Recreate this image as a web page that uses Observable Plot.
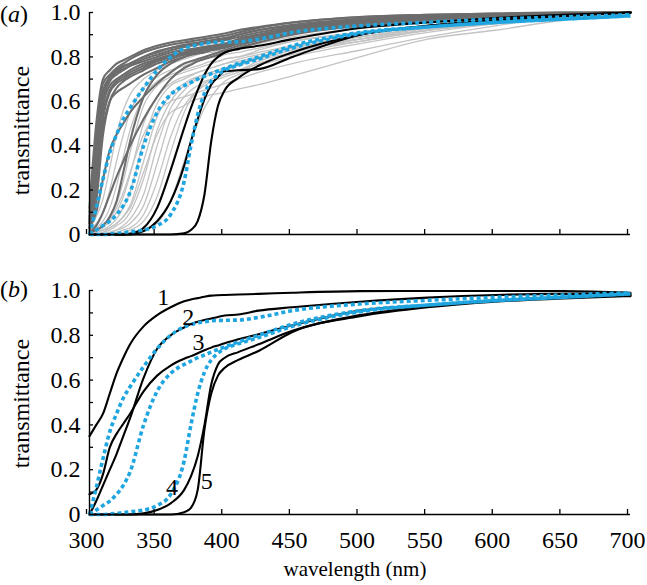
<!DOCTYPE html>
<html>
<head>
<meta charset="utf-8">
<script src="https://cdn.jsdelivr.net/npm/d3@7"></script>
<script src="https://cdn.jsdelivr.net/npm/@observablehq/plot@0.6"></script>
<style>
  body { margin: 0; background: #fff; }
  #chart svg { display: block; font-family: "Liberation Serif", "Times New Roman", serif; font-size: 24px; overflow: visible; }
  #chart svg text { font-family: "Liberation Serif", "Times New Roman", serif; }
</style>
</head>
<body>
<div id="chart"></div>
<script>
// ---------------- data ----------------
const wavelengths = [300, 305, 310, 315, 320, 325, 330, 340, 350, 360, 370, 375, 380, 385, 390, 395, 400, 410, 425, 450, 500, 550, 600, 650, 700];

// panel (a): dark grey spectra
const darkGrey = [
  [0.05, 0.35, 0.62, 0.70, 0.73, 0.745, 0.76, 0.78, 0.80, 0.82, 0.83, 0.835, 0.84, 0.845, 0.85, 0.855, 0.86, 0.88, 0.90, 0.93, 0.96, 0.975, 0.985, 0.995, 1.0],
  [0.08, 0.40, 0.65, 0.71, 0.74, 0.76, 0.77, 0.80, 0.82, 0.84, 0.85, 0.855, 0.86, 0.865, 0.87, 0.875, 0.88, 0.90, 0.92, 0.945, 0.97, 0.985, 0.99, 0.995, 1.0],
  [0.04, 0.28, 0.58, 0.67, 0.70, 0.72, 0.74, 0.77, 0.79, 0.81, 0.82, 0.83, 0.835, 0.84, 0.845, 0.85, 0.855, 0.87, 0.89, 0.92, 0.955, 0.97, 0.985, 0.995, 1.0],
  [0.10, 0.45, 0.68, 0.72, 0.75, 0.77, 0.79, 0.82, 0.84, 0.855, 0.865, 0.87, 0.875, 0.88, 0.885, 0.89, 0.895, 0.91, 0.93, 0.955, 0.98, 0.99, 0.995, 1.0, 1.0],
  [0.03, 0.22, 0.52, 0.64, 0.68, 0.70, 0.72, 0.75, 0.78, 0.80, 0.815, 0.82, 0.83, 0.835, 0.84, 0.845, 0.85, 0.87, 0.89, 0.92, 0.95, 0.97, 0.985, 0.995, 1.0],
  [0.06, 0.32, 0.60, 0.69, 0.72, 0.74, 0.76, 0.79, 0.81, 0.83, 0.845, 0.85, 0.855, 0.86, 0.865, 0.87, 0.875, 0.89, 0.91, 0.935, 0.965, 0.98, 0.99, 0.995, 1.0],
  [0.02, 0.15, 0.45, 0.60, 0.66, 0.69, 0.71, 0.74, 0.77, 0.79, 0.81, 0.815, 0.82, 0.83, 0.835, 0.84, 0.845, 0.86, 0.88, 0.91, 0.945, 0.965, 0.98, 0.99, 1.0],
  [0.07, 0.38, 0.63, 0.70, 0.735, 0.755, 0.77, 0.80, 0.825, 0.84, 0.855, 0.86, 0.865, 0.87, 0.875, 0.88, 0.885, 0.90, 0.92, 0.94, 0.97, 0.985, 0.99, 0.995, 1.0],
  [0.03, 0.20, 0.48, 0.60, 0.64, 0.66, 0.68, 0.72, 0.75, 0.78, 0.80, 0.81, 0.815, 0.82, 0.83, 0.835, 0.84, 0.86, 0.88, 0.91, 0.945, 0.965, 0.98, 0.99, 1.0],
  [0.05, 0.30, 0.55, 0.65, 0.69, 0.71, 0.73, 0.76, 0.785, 0.805, 0.82, 0.825, 0.83, 0.84, 0.845, 0.85, 0.855, 0.88, 0.90, 0.925, 0.955, 0.975, 0.985, 0.995, 1.0],
  [0.03, 0.10, 0.25, 0.38, 0.45, 0.50, 0.55, 0.62, 0.68, 0.73, 0.77, 0.78, 0.79, 0.80, 0.81, 0.82, 0.83, 0.85, 0.875, 0.905, 0.94, 0.965, 0.98, 0.99, 1.0],
  [0.01, 0.04, 0.10, 0.18, 0.26, 0.33, 0.40, 0.52, 0.62, 0.70, 0.75, 0.765, 0.78, 0.79, 0.80, 0.81, 0.82, 0.84, 0.865, 0.90, 0.94, 0.965, 0.98, 0.99, 1.0],
  [0.01, 0.02, 0.04, 0.08, 0.15, 0.28, 0.42, 0.62, 0.72, 0.77, 0.80, 0.81, 0.82, 0.83, 0.84, 0.845, 0.85, 0.87, 0.89, 0.92, 0.955, 0.975, 0.985, 0.995, 1.0],
  [0.12, 0.50, 0.70, 0.74, 0.77, 0.785, 0.80, 0.83, 0.85, 0.865, 0.875, 0.88, 0.885, 0.89, 0.895, 0.90, 0.905, 0.92, 0.935, 0.955, 0.98, 0.99, 0.995, 1.0, 1.0]
];

// panel (a): light grey spectra
const lightGrey = [
  [0.02, 0.05, 0.10, 0.20, 0.33, 0.45, 0.55, 0.66, 0.71, 0.74, 0.76, 0.77, 0.78, 0.79, 0.80, 0.80, 0.81, 0.82, 0.84, 0.87, 0.91, 0.94, 0.97, 0.99, 1.0],
  [0.01, 0.03, 0.06, 0.12, 0.22, 0.35, 0.47, 0.62, 0.69, 0.72, 0.74, 0.75, 0.76, 0.77, 0.78, 0.78, 0.79, 0.80, 0.82, 0.85, 0.89, 0.93, 0.96, 0.98, 1.0],
  [0.01, 0.02, 0.04, 0.08, 0.14, 0.24, 0.37, 0.58, 0.67, 0.71, 0.73, 0.74, 0.75, 0.76, 0.77, 0.78, 0.79, 0.80, 0.83, 0.87, 0.91, 0.94, 0.97, 0.99, 1.0],
  [0.0, 0.01, 0.03, 0.06, 0.10, 0.17, 0.27, 0.50, 0.62, 0.68, 0.71, 0.72, 0.73, 0.74, 0.75, 0.76, 0.77, 0.78, 0.80, 0.84, 0.88, 0.92, 0.95, 0.98, 1.0],
  [0.0, 0.01, 0.02, 0.04, 0.07, 0.12, 0.19, 0.42, 0.59, 0.67, 0.70, 0.715, 0.73, 0.74, 0.75, 0.76, 0.77, 0.79, 0.81, 0.85, 0.90, 0.94, 0.97, 0.99, 1.0],
  [0.0, 0.0, 0.01, 0.03, 0.05, 0.08, 0.13, 0.33, 0.53, 0.63, 0.68, 0.70, 0.71, 0.72, 0.73, 0.74, 0.75, 0.77, 0.79, 0.83, 0.87, 0.92, 0.95, 0.98, 1.0],
  [0.0, 0.0, 0.01, 0.02, 0.04, 0.06, 0.10, 0.25, 0.47, 0.60, 0.67, 0.69, 0.71, 0.72, 0.73, 0.74, 0.75, 0.77, 0.80, 0.84, 0.89, 0.93, 0.96, 0.99, 1.0],
  [0.0, 0.0, 0.0, 0.01, 0.02, 0.04, 0.07, 0.18, 0.40, 0.57, 0.65, 0.68, 0.70, 0.71, 0.72, 0.73, 0.74, 0.76, 0.79, 0.83, 0.89, 0.93, 0.96, 0.99, 1.0],
  [0.0, 0.0, 0.0, 0.01, 0.02, 0.03, 0.05, 0.13, 0.32, 0.52, 0.62, 0.65, 0.67, 0.69, 0.70, 0.71, 0.72, 0.74, 0.77, 0.82, 0.88, 0.92, 0.96, 0.98, 1.0],
  [0.0, 0.0, 0.0, 0.0, 0.01, 0.02, 0.03, 0.09, 0.24, 0.44, 0.58, 0.62, 0.65, 0.67, 0.69, 0.70, 0.71, 0.73, 0.77, 0.81, 0.87, 0.92, 0.96, 0.98, 1.0],
  [0.0, 0.01, 0.02, 0.03, 0.05, 0.08, 0.12, 0.28, 0.45, 0.55, 0.58, 0.60, 0.61, 0.62, 0.63, 0.635, 0.64, 0.655, 0.675, 0.715, 0.80, 0.88, 0.92, 0.965, 0.995],
  [0.01, 0.02, 0.04, 0.07, 0.12, 0.19, 0.28, 0.45, 0.55, 0.60, 0.62, 0.63, 0.64, 0.65, 0.66, 0.67, 0.68, 0.70, 0.73, 0.77, 0.83, 0.89, 0.94, 0.98, 1.0],
  [0.03, 0.08, 0.16, 0.30, 0.45, 0.56, 0.63, 0.70, 0.74, 0.77, 0.79, 0.80, 0.81, 0.82, 0.82, 0.83, 0.83, 0.84, 0.86, 0.89, 0.93, 0.96, 0.98, 0.99, 1.0],
  [0.0, 0.0, 0.0, 0.0, 0.0, 0.01, 0.02, 0.06, 0.17, 0.37, 0.55, 0.61, 0.65, 0.68, 0.70, 0.71, 0.72, 0.74, 0.78, 0.82, 0.88, 0.93, 0.96, 0.98, 1.0],
  [0.0, 0.0, 0.0, 0.0, 0.0, 0.0, 0.01, 0.02, 0.05, 0.15, 0.33, 0.42, 0.50, 0.57, 0.62, 0.66, 0.69, 0.72, 0.76, 0.80, 0.86, 0.91, 0.95, 0.98, 1.0]
];

// panel (a): black spectra
const blackA = [
  [0.0, 0.0, 0.0, 0.0, 0.0, 0.0, 0.003, 0.03, 0.12, 0.29, 0.48, 0.57, 0.65, 0.72, 0.77, 0.80, 0.82, 0.835, 0.85, 0.88, 0.93, 0.955, 0.975, 0.99, 1.0],
  [0.0, 0.0, 0.0, 0.0, 0.0, 0.0, 0.0, 0.015, 0.06, 0.15, 0.31, 0.42, 0.52, 0.61, 0.675, 0.71, 0.735, 0.74, 0.745, 0.80, 0.90, 0.94, 0.965, 0.985, 1.0],
  [0.0, 0.0, 0.0, 0.0, 0.0, 0.0, 0.0, 0.0, 0.0, 0.0, 0.005, 0.02, 0.06, 0.18, 0.42, 0.58, 0.65, 0.705, 0.76, 0.82, 0.90, 0.94, 0.965, 0.985, 1.0]
];

// blue dotted spectra (shown in both panels)
const blueMeans = [
  [0.0, 0.12, 0.25, 0.37, 0.45, 0.52, 0.57, 0.66, 0.74, 0.80, 0.838, 0.848, 0.855, 0.86, 0.865, 0.866, 0.867, 0.868, 0.88, 0.91, 0.94, 0.956, 0.97, 0.98, 0.99],
  [0.0, 0.02, 0.04, 0.06, 0.09, 0.13, 0.19, 0.40, 0.55, 0.63, 0.67, 0.685, 0.70, 0.712, 0.725, 0.737, 0.748, 0.77, 0.80, 0.85, 0.91, 0.935, 0.955, 0.97, 0.985],
  [0.0, 0.0, 0.0, 0.002, 0.005, 0.008, 0.012, 0.02, 0.04, 0.09, 0.24, 0.40, 0.54, 0.635, 0.69, 0.72, 0.74, 0.762, 0.79, 0.84, 0.905, 0.935, 0.955, 0.97, 0.985]
];

// panel (b): numbered black spectra 1-5
const blackB = [
  [0.35, 0.40, 0.45, 0.54, 0.63, 0.70, 0.76, 0.84, 0.89, 0.925, 0.952, 0.96, 0.966, 0.972, 0.977, 0.979, 0.98, 0.982, 0.985, 0.99, 0.997, 0.998, 0.998, 0.997, 0.99],
  [0.0, 0.06, 0.13, 0.20, 0.27, 0.35, 0.43, 0.61, 0.74, 0.80, 0.835, 0.85, 0.86, 0.868, 0.875, 0.882, 0.888, 0.893, 0.91, 0.925, 0.95, 0.968, 0.98, 0.985, 0.985],
  [0.09, 0.11, 0.18, 0.30, 0.36, 0.405, 0.45, 0.55, 0.62, 0.665, 0.695, 0.707, 0.72, 0.733, 0.745, 0.755, 0.765, 0.782, 0.805, 0.845, 0.91, 0.935, 0.955, 0.97, 0.98],
  [0.0, 0.0, 0.0, 0.0, 0.0, 0.0, 0.0, 0.005, 0.02, 0.05, 0.11, 0.17, 0.26, 0.40, 0.58, 0.67, 0.70, 0.725, 0.76, 0.82, 0.89, 0.93, 0.955, 0.97, 0.98],
  [0.0, 0.0, 0.0, 0.0, 0.0, 0.0, 0.0, 0.0, 0.0, 0.0, 0.01, 0.03, 0.11, 0.38, 0.54, 0.62, 0.655, 0.69, 0.73, 0.815, 0.885, 0.925, 0.95, 0.965, 0.975]
];
const curveLabels = ["1", "2", "3", "4", "5"];
const curveLabelWavelength = [354.5, 373, 380.5, 361, 386.7];
const curveLabelValue = [0.969, 0.88, 0.77, 0.12, 0.15];

const xDomain = [300, 700];
const xTicks = [300, 350, 400, 450, 500, 550, 600, 650, 700];
const xTickLabels = ["300", "350", "400", "450", "500", "550", "600", "650", "700"];
const yTicks = [0, 0.1, 0.2, 0.3, 0.4, 0.5, 0.6, 0.7, 0.8, 0.9, 1.0];
const yTickLabels = ["0", "", "0.2", "", "0.4", "", "0.6", "", "0.8", "", "1.0"];
const yLabel = "transmittance";
const xLabel = "wavelength (nm)";
const panelLetters = ["a", "b"];

// ---------------- helpers ----------------
const toRows = (series, group) =>
  series.flatMap((vals, i) => vals.map((v, j) => ({w: wavelengths[j], t: v, id: group + i})));

const FONT = "'Liberation Serif', 'Times New Roman', serif";
const BLUE = "#1fa6e0";

function panel({height, marginTop, marginBottom, marks, showXLabels, labelDy}) {
  return Plot.plot({
    width: 647,
    height,
    marginLeft: 89,
    marginRight: 17,
    marginTop,
    marginBottom,
    x: {domain: xDomain},
    y: {domain: [0, 1]},
    style: `font-family: ${FONT}; font-size: 24px; color: #000; background: #fff; overflow: visible;`,
    marks: [
      ...marks,
      Plot.ruleX([xDomain[0]], {stroke: "#000", strokeWidth: 1.4}),
      Plot.ruleY([0], {stroke: "#000", strokeWidth: 1.4}),
      Plot.axisX({
        ticks: xTicks, tickSize: -5, tickPadding: 21, strokeWidth: 1.3,
        tickFormat: d => showXLabels ? xTickLabels[xTicks.indexOf(d)] : "",
        label: null, fontSize: 24, dx: -3
      }),
      Plot.axisY({
        ticks: yTicks, tickSize: -4, tickPadding: 13, strokeWidth: 1.3,
        tickFormat: d => yTickLabels[yTicks.indexOf(d)],
        label: null, fontSize: 24
      }),
      Plot.text([yLabel], {
        text: d => d, frameAnchor: "left", textAnchor: "middle", rotate: -90, dx: -68, dy: labelDy,
        fontSize: 24, fill: "#000"
      })
    ]
  });
}

function addLetter(svg, letter, y) {
  const t = d3.select(svg).append("text")
    .attr("x", 0).attr("y", y)
    .attr("text-anchor", "start")
    .style("font-family", FONT).style("font-size", "24px").attr("fill", "#000");
  t.append("tspan").text("(");
  t.append("tspan").attr("font-style", "italic").text(letter);
  t.append("tspan").text(")");
}

const blueStyle = {stroke: BLUE, strokeWidth: 3.6, strokeDasharray: "4 3", strokeLinecap: "butt", curve: "monotone-x"};

// ---------------- panel (a) ----------------
const svgA = panel({
  height: 250, marginTop: 12, marginBottom: 16, showXLabels: false, labelDy: 7,
  marks: [
    Plot.line(toRows(lightGrey, "L"), {x: "w", y: "t", z: "id", stroke: "#c3c3c3", strokeWidth: 1.3, curve: "monotone-x"}),
    Plot.line(toRows(darkGrey, "D"), {x: "w", y: "t", z: "id", stroke: "#6c6c6c", strokeWidth: 2.1, curve: "monotone-x"}),
    Plot.line(toRows(blackA, "K"), {x: "w", y: "t", z: "id", stroke: "#000", strokeWidth: 2.1, curve: "monotone-x"}),
    Plot.line(toRows(blueMeans, "B"), {x: "w", y: "t", z: "id", ...blueStyle})
  ]
});
addLetter(svgA, panelLetters[0], 22);

// ---------------- panel (b) ----------------
const labelRows = curveLabels.map((s, i) => ({s, w: curveLabelWavelength[i], t: curveLabelValue[i]}));
const svgB = panel({
  height: 335, marginTop: 40, marginBottom: 71, showXLabels: true, labelDy: 1,
  marks: [
    Plot.line(toRows(blackB, "N"), {x: "w", y: "t", z: "id", stroke: "#000", strokeWidth: 2.1, curve: "monotone-x"}),
    Plot.line(toRows(blueMeans, "B"), {x: "w", y: "t", z: "id", ...blueStyle}),
    Plot.text(labelRows, {x: "w", y: "t", text: "s", fontSize: 24, fill: "#000"}),
    Plot.text([xLabel], {text: d => d, frameAnchor: "bottom", textAnchor: "middle", lineAnchor: "bottom", dy: 61, dx: -5, fontSize: 21, fill: "#000"})
  ]
});
addLetter(svgB, panelLetters[1], 47);

const root = document.getElementById("chart");
root.appendChild(svgA);
root.appendChild(svgB);
</script>
</body>
</html>
